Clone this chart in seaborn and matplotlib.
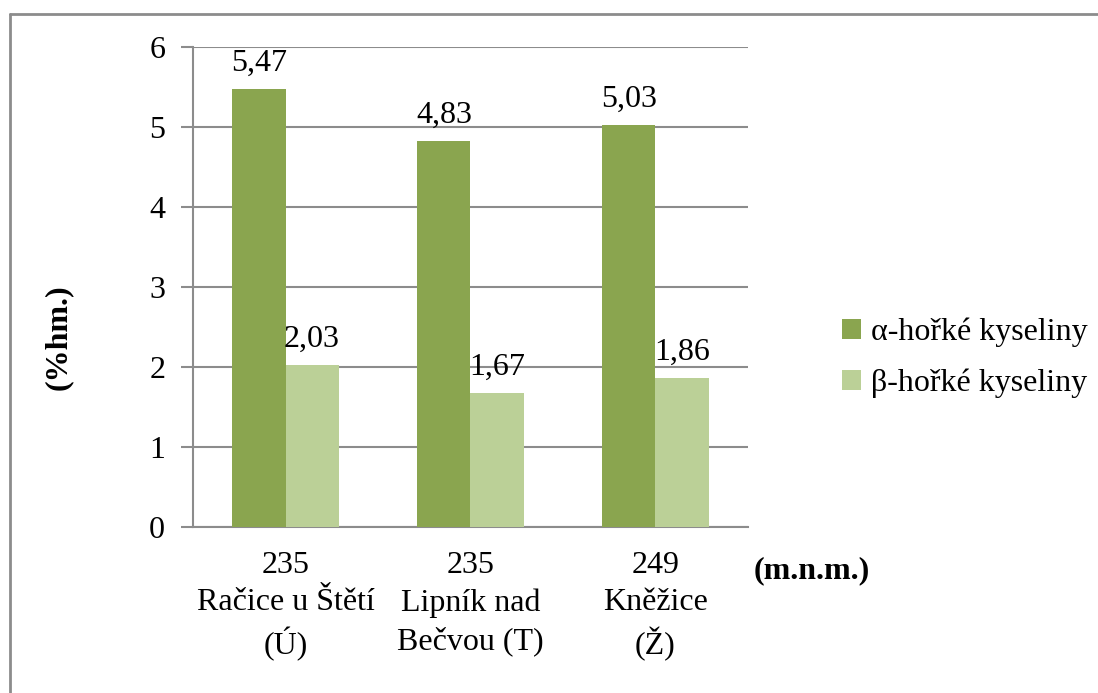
import matplotlib
matplotlib.use("Agg")
import matplotlib.pyplot as plt
import seaborn as sns
import pandas as pd
from matplotlib.lines import Line2D
from matplotlib.patches import Patch

# Data
sites = ["235\nRačice u Štětí\n(Ú)", "235\nLipník nad\nBečvou (T)", "249\nKněžice\n(Ž)"]
series = ["α-hořké kyseliny", "β-hořké kyseliny"]
alpha_vals = [5.47, 4.83, 5.03]
beta_vals = [2.03, 1.67, 1.86]
yticks = [0, 1, 2, 3, 4, 5, 6]

colors = ["#8AA54F", "#BBD097"]
grid_c = "#8C8C8C"
FS = 23

df = pd.DataFrame({
    "site": sites * 2,
    "series": [series[0]] * 3 + [series[1]] * 3,
    "value": alpha_vals + beta_vals,
})

sns.set_theme(style="white")
plt.rcParams["font.family"] = ["Liberation Serif", "DejaVu Serif"]
plt.rcParams["font.size"] = FS
plt.rcParams["text.color"] = "black"
plt.rcParams["xtick.labelcolor"] = "black"
plt.rcParams["ytick.labelcolor"] = "black"

fig = plt.figure(figsize=(10.98, 6.93), dpi=100)
ax = fig.add_axes([193 / 1098, 1 - 527 / 693, (748 - 193) / 1098, (527 - 47) / 693])

sns.barplot(data=df, x="site", y="value", hue="series", palette=colors,
            width=0.575, saturation=1, edgecolor="none", linewidth=0,
            ax=ax, legend=False, zorder=3)

ax.set_ylim(0, 6)
ax.set_xlim(-0.5, 2.5)
ax.set_yticks(yticks)
ax.set_yticklabels([str(t) for t in yticks], fontsize=FS, color="black")
ax.yaxis.grid(True, color=grid_c, linewidth=1.5, zorder=0)
ax.set_axisbelow(True)
ax.tick_params(axis="y", length=9, width=1.5, color=grid_c, pad=11, left=True)
ax.tick_params(axis="x", length=0, pad=17)
for lbl in ax.get_xticklabels():
    lbl.set_fontsize(FS)
    lbl.set_color("black")
    lbl.set_linespacing(1.38)
ax.set_xlabel("")
ax.set_ylabel("")
for side in ["top", "right"]:
    ax.spines[side].set_visible(False)
for side in ["left", "bottom"]:
    ax.spines[side].set_color(grid_c)
    ax.spines[side].set_linewidth(1.5)

# Value labels with decimal commas
for container in ax.containers:
    labels = [f"{b.get_height():.2f}".replace(".", ",") for b in container]
    ax.bar_label(container, labels=labels, padding=8, fontsize=FS, color="black")

# Axis titles
fig.text(58 / 1098, 1 - 337 / 693, "(%hm.)", rotation=90, fontsize=FS,
         fontweight="bold", ha="center", va="center", color="black")
fig.text(812 / 1098, 1 - 571 / 693, "(m.n.m.)", fontsize=FS,
         fontweight="bold", ha="center", va="center", color="black")

# Legend
handles = [Patch(facecolor=c, edgecolor="none") for c in colors]
leg = fig.legend(handles, series, loc="center left",
                 bbox_to_anchor=(842 / 1098, 1 - 358 / 693), frameon=False,
                 borderpad=0, borderaxespad=0,
                 fontsize=FS, handlelength=0.6, handleheight=0.6,
                 handletextpad=0.3, labelspacing=0.68)
for t in leg.get_texts():
    t.set_color("black")

# Chart frame
fig.add_artist(Line2D([10 / 1098, 10 / 1098], [0, 1 - 14 / 693],
                      transform=fig.transFigure, color=grid_c, linewidth=2))
fig.add_artist(Line2D([10 / 1098, 1], [1 - 14 / 693, 1 - 14 / 693],
                      transform=fig.transFigure, color=grid_c, linewidth=2))

fig.savefig("out.png", dpi=100, facecolor="white")
